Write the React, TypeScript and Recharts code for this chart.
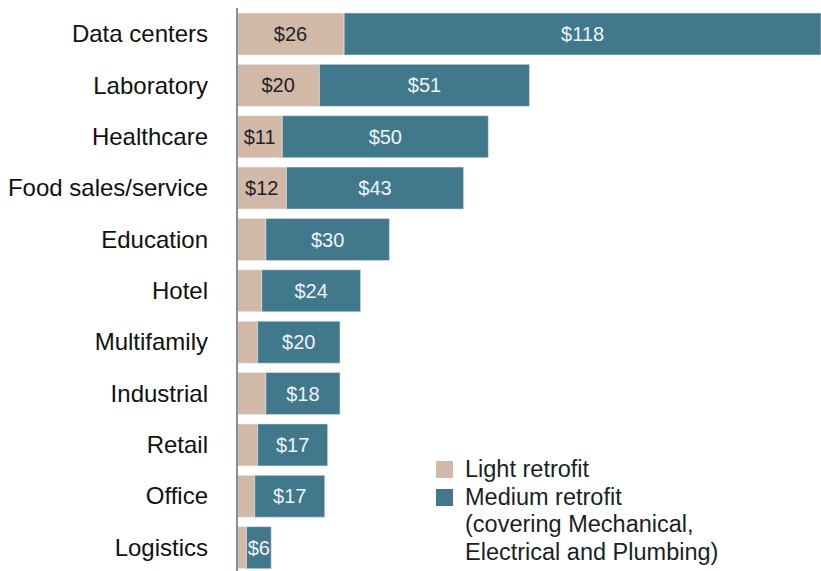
import React from 'react';
import { BarChart, Bar, XAxis, YAxis, LabelList, Legend } from 'recharts';

const categories = ['Data centers', 'Laboratory', 'Healthcare', 'Food sales/service', 'Education', 'Hotel', 'Multifamily', 'Industrial', 'Retail', 'Office', 'Logistics'];
const lightRetrofit = [26, 20, 11, 12, 7, 6, 5, 7, 5, 4.3, 2.3];
const mediumRetrofit = [118, 51, 50, 43, 30, 24, 20, 18, 17, 17, 6];
const labeledLight = [true, true, true, true, false, false, false, false, false, false, false];

const LIGHT = '#D2B8A6';
const MEDIUM = '#41788B';
const FONT = '"Liberation Sans", Arial, sans-serif';

const data = categories.map((name, i) => ({
  name,
  light: lightRetrofit[i],
  medium: mediumRetrofit[i],
  lightLabel: labeledLight[i] ? `$${lightRetrofit[i]}` : '',
  mediumLabel: `$${mediumRetrofit[i]}`,
}));

const LegendContent = () => (
  <div style={{ fontFamily: FONT, fontSize: 23.5, color: '#1a1f24', lineHeight: '27.5px', whiteSpace: 'nowrap' }}>
    <div style={{ display: 'flex', alignItems: 'flex-start' }}>
      <div style={{ width: 17, height: 17, background: LIGHT, marginTop: 5, marginRight: 12, flex: 'none' }} />
      <div>Light retrofit</div>
    </div>
    <div style={{ display: 'flex', alignItems: 'flex-start' }}>
      <div style={{ width: 17, height: 17, background: MEDIUM, marginTop: 5, marginRight: 12, flex: 'none' }} />
      <div>
        Medium retrofit
        <br />
        (covering Mechanical,
        <br />
        Electrical and Plumbing)
      </div>
    </div>
  </div>
);

export default function App() {
  return (
    <div style={{ position: 'absolute', left: 0, top: 0, width: 821, height: 571, overflow: 'hidden', background: '#fff' }}>
      <BarChart
        width={821}
        height={579}
        data={data}
        layout="vertical"
        margin={{ top: 8, right: 0, bottom: 6, left: 0 }}
      >
        <XAxis type="number" hide domain={[0, 141.75]} allowDataOverflow />
        <YAxis
          type="category"
          dataKey="name"
          width={237}
          tickLine={false}
          tickSize={0}
          tickMargin={29}
          axisLine={{ stroke: '#8a8f8f', strokeWidth: 2 }}
          tick={{ fill: '#111', fontSize: 24, fontFamily: FONT }}
          interval={0}
        />
        <Legend
          layout="vertical"
          align="center"
          verticalAlign="middle"
          content={<LegendContent />}
          wrapperStyle={{ left: 436, top: 456, width: 380 }}
        />
        <Bar dataKey="light" stackId="a" fill={LIGHT} barSize={42} isAnimationActive={false} stroke="#eef2f3" strokeWidth={0.6}>
          <LabelList dataKey="lightLabel" position="center" fill="#1e2226" fontSize={20} fontFamily={FONT} />
        </Bar>
        <Bar dataKey="medium" stackId="a" fill={MEDIUM} barSize={42} isAnimationActive={false} stroke="#dbe6ea" strokeWidth={0.6}>
          <LabelList dataKey="mediumLabel" position="center" fill="#eef4f7" fontSize={20} fontFamily={FONT} />
        </Bar>
      </BarChart>
    </div>
  );
}
